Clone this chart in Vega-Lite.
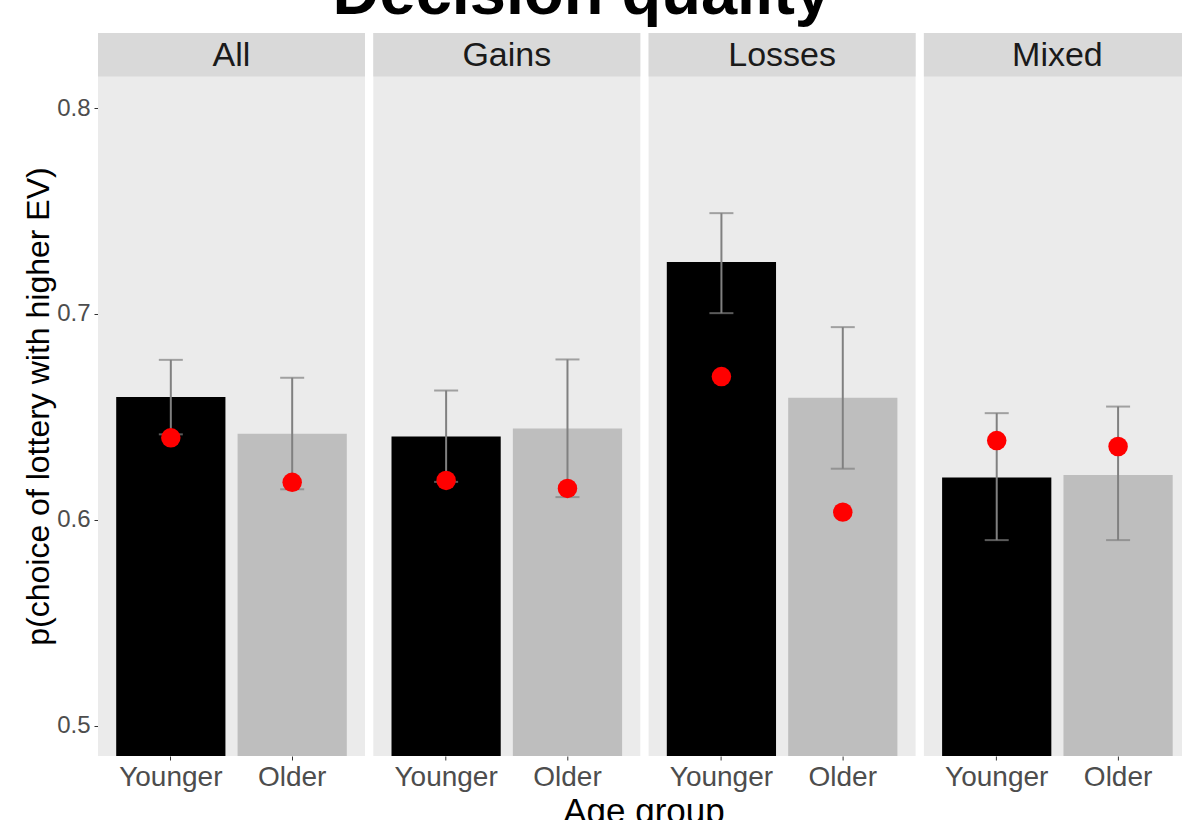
{
  "$schema": "https://vega.github.io/schema/vega-lite/v6.json",
  "background": "white",
  "padding": {"top": -39, "left": 22, "right": -9, "bottom": -8},
  "title": {
    "text": "Decision quality",
    "fontSize": 65,
    "fontWeight": "bold",
    "font": "Liberation Sans",
    "color": "#000000",
    "anchor": "middle",
    "offset": 5.5,
    "dx": -25
  },
  "data": {
    "values": [
      {"condition": "All", "age": "Younger", "p": 0.6596, "ci_low": 0.6415, "ci_high": 0.6777, "p_obs": 0.6398},
      {"condition": "All", "age": "Older", "p": 0.6418, "ci_low": 0.6148, "ci_high": 0.6690, "p_obs": 0.6182},
      {"condition": "Gains", "age": "Younger", "p": 0.6404, "ci_low": 0.6184, "ci_high": 0.6628, "p_obs": 0.6191},
      {"condition": "Gains", "age": "Older", "p": 0.6443, "ci_low": 0.6110, "ci_high": 0.6779, "p_obs": 0.6152},
      {"condition": "Losses", "age": "Younger", "p": 0.7252, "ci_low": 0.7004, "ci_high": 0.7490, "p_obs": 0.6696},
      {"condition": "Losses", "age": "Older", "p": 0.6593, "ci_low": 0.6248, "ci_high": 0.6936, "p_obs": 0.6037},
      {"condition": "Mixed", "age": "Younger", "p": 0.6205, "ci_low": 0.5901, "ci_high": 0.6518, "p_obs": 0.6385},
      {"condition": "Mixed", "age": "Older", "p": 0.6218, "ci_low": 0.5901, "ci_high": 0.6550, "p_obs": 0.6356}
    ]
  },
  "facet": {
    "column": {
      "field": "condition",
      "type": "nominal",
      "sort": ["All", "Gains", "Losses", "Mixed"],
      "title": "Age group",
      "header": {
        "labels": false,
        "titleOrient": "bottom",
        "titleFontSize": 35,
        "titleColor": "#000000",
        "titleFont": "Liberation Sans",
        "titleFontWeight": "normal",
        "titlePadding": -6
      }
    }
  },
  "spacing": 8.3,
  "spec": {
    "width": 267,
    "height": 723,
    "layer": [
      {
        "mark": {"type": "bar", "clip": true},
        "encoding": {
          "x": {
            "field": "age",
            "type": "nominal",
            "sort": ["Younger", "Older"],
            "scale": {"paddingInner": 0.1, "paddingOuter": 0.15},
            "axis": {"title": null, "labelAngle": 0}
          },
          "y": {
            "field": "p",
            "type": "quantitative",
            "scale": {"domain": [0.48518, 0.83655], "zero": false, "nice": false},
            "axis": {
              "title": "p(choice of lottery with higher EV)",
              "values": [0.5, 0.6, 0.7, 0.8],
              "format": ".1f",
              "titleY": 373
            }
          },
          "color": {
            "field": "age",
            "type": "nominal",
            "scale": {"domain": ["Younger", "Older"], "range": ["#000000", "#BEBEBE"]},
            "legend": null
          }
        }
      },
      {
        "transform": [{"filter": "datum.age === 'Younger'"}],
        "mark": {"type": "rect", "color": "#D9D9D9"},
        "encoding": {
          "y": {"datum": 0.81541, "type": "quantitative"},
          "y2": {"datum": 0.83655}
        }
      },
      {
        "transform": [{"filter": "datum.age === 'Younger'"}],
        "mark": {"type": "text", "fontSize": 34, "font": "Liberation Sans", "color": "#1A1A1A", "baseline": "middle", "align": "center"},
        "encoding": {
          "y": {"datum": 0.8256, "type": "quantitative"},
          "text": {"field": "condition"}
        }
      },
      {
        "mark": {"type": "rule", "color": "#808080", "strokeWidth": 2},
        "encoding": {
          "x": {"field": "age", "type": "nominal", "sort": ["Younger", "Older"]},
          "y": {"field": "ci_low", "type": "quantitative"},
          "y2": {"field": "ci_high"}
        }
      },
      {
        "mark": {"type": "tick", "color": "#808080", "size": 24, "thickness": 2},
        "encoding": {
          "x": {"field": "age", "type": "nominal", "sort": ["Younger", "Older"]},
          "y": {"field": "ci_low", "type": "quantitative"}
        }
      },
      {
        "mark": {"type": "tick", "color": "#808080", "size": 24, "thickness": 2},
        "encoding": {
          "x": {"field": "age", "type": "nominal", "sort": ["Younger", "Older"]},
          "y": {"field": "ci_high", "type": "quantitative"}
        }
      },
      {
        "mark": {"type": "circle", "color": "#FF0000", "size": 380, "opacity": 1},
        "encoding": {
          "x": {"field": "age", "type": "nominal", "sort": ["Younger", "Older"]},
          "y": {"field": "p_obs", "type": "quantitative"}
        }
      }
    ]
  },
  "config": {
    "font": "Liberation Sans",
    "view": {"fill": "#EBEBEB", "stroke": null},
    "axisY": {
      "labelFontSize": 24,
      "labelColor": "#4D4D4D",
      "labelPadding": 4,
      "tickColor": "#333333",
      "tickSize": 4,
      "domain": false,
      "grid": false,
      "titleFontSize": 32,
      "titleColor": "#000000",
      "titleFontWeight": "normal",
      "titlePadding": 1
    },
    "axisX": {
      "labelFontSize": 28,
      "labelColor": "#4D4D4D",
      "labelPadding": 3,
      "tickColor": "#333333",
      "tickSize": 4,
      "domain": false,
      "grid": false
    }
  }
}
